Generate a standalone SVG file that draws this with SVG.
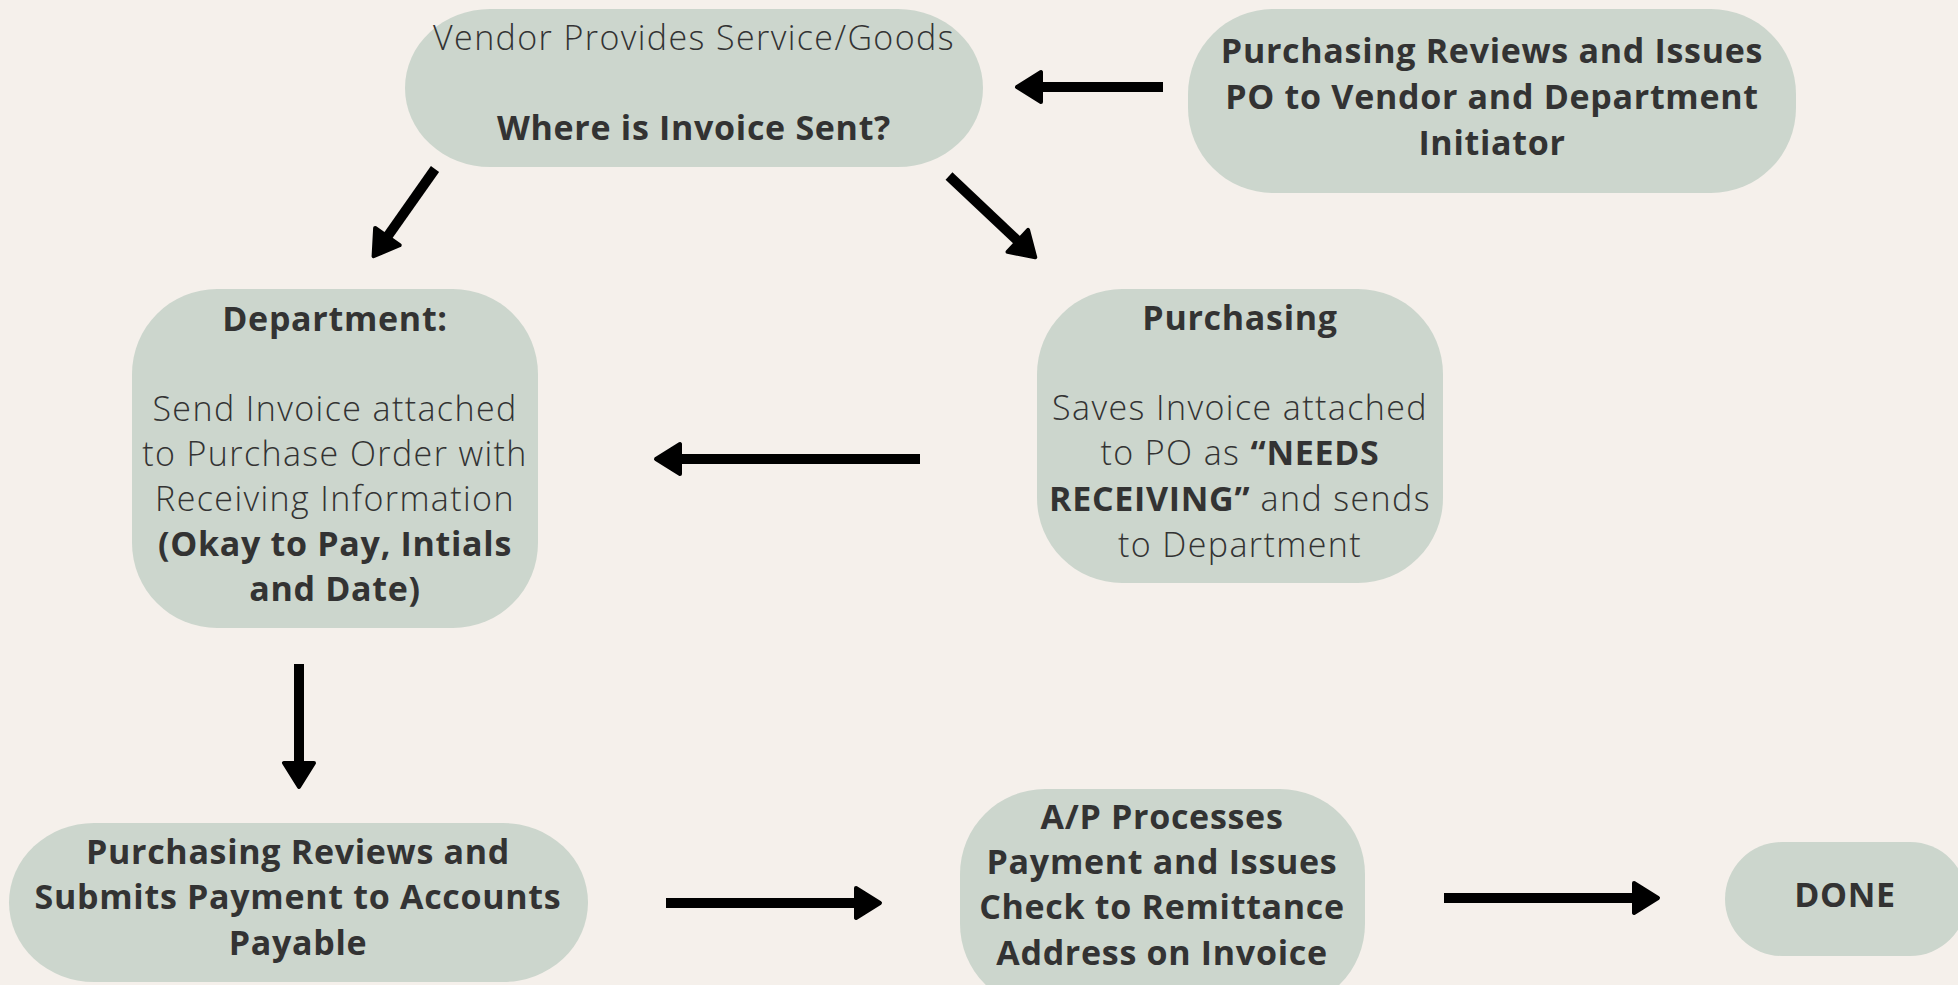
<svg xmlns="http://www.w3.org/2000/svg" width="1958" height="985" viewBox="0 0 1958 985">
<style>
.bg{fill:#F5F0EB}
.node{fill:#CCD6CD}
text{font-family:"Open Sans","Liberation Sans",sans-serif;font-size:34px;fill:#333333;text-anchor:middle}
.l{font-weight:300;letter-spacing:1.4px}
.b{font-weight:700;letter-spacing:0.7px}
.conn line{stroke:#000;stroke-width:10;marker-end:url(#ah)}
</style>
<defs>
<marker id="ah" markerUnits="userSpaceOnUse" viewBox="-5 -20 40 40" markerWidth="40" markerHeight="40" refX="0" refY="0" orient="auto" overflow="visible">
<path d="M0,-15 L24,0 L0,15 Z" fill="#000" stroke="#000" stroke-width="4" stroke-linejoin="round"/>
</marker>
</defs>
<rect class="bg" x="0" y="0" width="1958" height="985"/>

<g id="vendor">
<rect class="node" x="405" y="9" width="578" height="158" rx="85" ry="85"/>
<text x="694" y="50" class="l">Vendor Provides Service/Goods</text>
<text x="694" y="140" class="b">Where is Invoice Sent?</text>
</g>

<g id="po-issue">
<rect class="node" x="1188" y="9" width="608" height="184" rx="85" ry="85"/>
<text x="1492" y="63" class="b">Purchasing Reviews and Issues</text>
<text x="1492" y="109" class="b">PO to Vendor and Department</text>
<text x="1492" y="155" class="b">Initiator</text>
</g>

<g id="department">
<rect class="node" x="132" y="289" width="406" height="339" rx="85" ry="85"/>
<text x="335" y="331" class="b">Department:</text>
<text x="335" y="421" class="l">Send Invoice attached</text>
<text x="335" y="466" class="l">to Purchase Order with</text>
<text x="335" y="511" class="l">Receiving Information</text>
<text x="335" y="556" class="b">(Okay to Pay, Intials</text>
<text x="335" y="601" class="b">and Date)</text>
</g>

<g id="purchasing">
<rect class="node" x="1037" y="289" width="406" height="294" rx="85" ry="85"/>
<text x="1240" y="330" class="b">Purchasing</text>
<text x="1240" y="420" class="l">Saves Invoice attached</text>
<text x="1240" y="465"><tspan class="l">to PO as </tspan><tspan class="b">“NEEDS</tspan></text>
<text x="1240" y="511"><tspan class="b">RECEIVING”</tspan><tspan class="l"> and sends</tspan></text>
<text x="1240" y="557" class="l">to Department</text>
</g>

<g id="submit-payment">
<rect class="node" x="9" y="823" width="579" height="159" rx="85" ry="85"/>
<text x="298" y="864" class="b">Purchasing Reviews and</text>
<text x="298" y="909" class="b">Submits Payment to Accounts</text>
<text x="298" y="955" class="b">Payable</text>
</g>

<g id="ap-process">
<rect class="node" x="960" y="789" width="405" height="220" rx="85" ry="85"/>
<text x="1162" y="829" class="b">A/P Processes</text>
<text x="1162" y="874" class="b">Payment and Issues</text>
<text x="1162" y="919" class="b">Check to Remittance</text>
<text x="1162" y="965" class="b">Address on Invoice</text>
</g>

<g id="done">
<rect class="node" x="1725" y="842" width="242" height="114" rx="57" ry="57"/>
<text x="1845" y="907" class="b">DONE</text>
</g>

<g id="connectors" class="conn">
<line x1="1163" y1="87" x2="1041" y2="87"/>
<line x1="435" y1="169" x2="387.4" y2="236.6"/>
<line x1="949" y1="176" x2="1017.8" y2="240.9"/>
<line x1="920" y1="459" x2="680" y2="459"/>
<line x1="299" y1="664" x2="299" y2="763"/>
<line x1="666" y1="903" x2="856" y2="903"/>
<line x1="1444" y1="898" x2="1634" y2="898"/>
</g>
</svg>
